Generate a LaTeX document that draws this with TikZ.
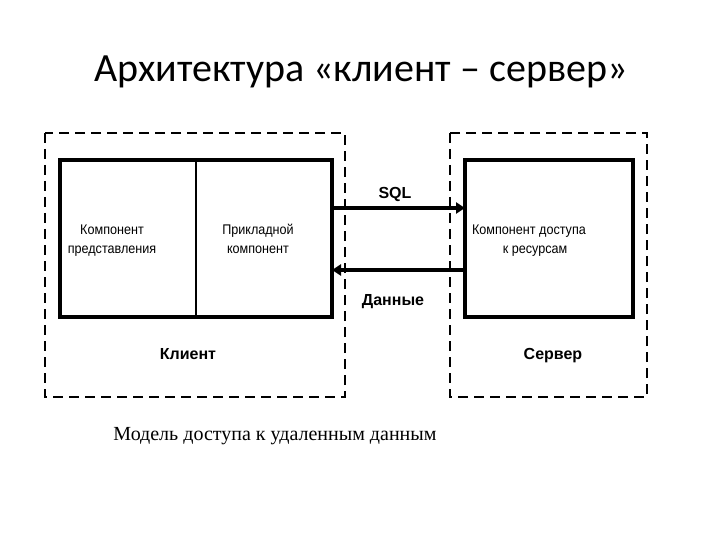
\documentclass[tikz,border=0pt]{standalone}
\usepackage{fontspec}
\setmainfont{Liberation Sans}
\newfontfamily\titlefont{Carlito}
\newfontfamily\capfont{Liberation Serif}
\usetikzlibrary{arrows.meta}
\newcommand{\narrowtxt}[1]{\scalebox{0.9}[1]{#1}}
\begin{document}
\begin{tikzpicture}[x=1pt,y=-1pt,
  dashbox/.style={draw,line width=2.6pt,dash pattern=on 10pt off 6pt},
  solidbox/.style={draw,line width=4pt},
  conn/.style={line width=4pt,-{Triangle[length=9pt,width=11pt]}},
  inner/.style={font=\fontsize{14}{16}\selectfont,anchor=base,inner sep=0pt},
  boldlbl/.style={font=\bfseries\fontsize{16}{18}\selectfont,anchor=base,inner sep=0pt}]
\useasboundingbox (0,0) rectangle (720,540);
\node[font=\titlefont\fontsize{40}{44}\selectfont,inner sep=0pt,anchor=base] (title) at (361,82) {Архитектура «клиент – сервер»};
% outer dashed boxes
\draw[dashbox] (45,133) rectangle (345,397);
\draw[dashbox] (450,133) rectangle (647,397);
% client box
\node[solidbox,minimum width=272pt,minimum height=157pt,inner sep=0pt] (client) at (196,238.5) {};
\coordinate (divt) at (196,160);
\coordinate (divb) at (196,317);
\draw[line width=1.5pt] (divt) -- (divb);
% server box
\node[solidbox,minimum width=168pt,minimum height=157pt,inner sep=0pt] (server) at (549,238.5) {};
% texts
\node[inner] (pres1) at (112,234) {\narrowtxt{Компонент}};
\node[inner] (pres2) at (112,253) {\narrowtxt{представления}};
\node[inner] (app1) at (258,234) {\narrowtxt{Прикладной}};
\node[inner] (app2) at (258,253) {\narrowtxt{компонент}};
\node[inner] (res1) at (529,234) {\narrowtxt{Компонент доступа}};
\node[inner] (res2) at (535,253) {\narrowtxt{к ресурсам}};
\node[boldlbl] (cl) at (188,359) {Клиент};
\node[boldlbl] (sv) at (553,359) {Сервер};
% connectors
\coordinate (sqlA) at (332,208);
\coordinate (sqlB) at (465,208);
\coordinate (datA) at (465,270);
\coordinate (datB) at (332,270);
\draw[conn] (sqlA) -- (sqlB);
\draw[conn] (datA) -- (datB);
\node[boldlbl] (sql) at (395,199) {SQL};
\node[boldlbl] (dat) at (393,305) {Данные};
\node[font=\capfont\fontsize{20}{22}\selectfont,inner sep=0pt,anchor=base] (cap) at (275,440) {Модель доступа к удаленным данным};
\end{tikzpicture}
\end{document}
